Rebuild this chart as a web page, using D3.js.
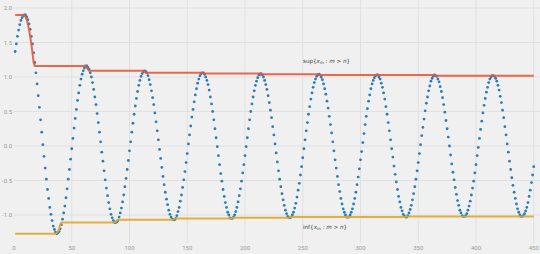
<!DOCTYPE html>
<html>
<head>
<meta charset="utf-8">
<script src="https://cdn.jsdelivr.net/npm/d3@7"></script>
<style>
  html, body { margin: 0; padding: 0; background: #f0f0f0; }
  svg { display: block; }
</style>
</head>
<body>
<svg id="chart" width="540" height="254"></svg>
<script>
// sequence x_n, n = 1 .. 450 (one value per n)
const xn = [
  1.37, 1.48, 1.59, 1.68, 1.76, 1.82, 1.86, 1.89, 1.90, 1.90,
  1.87, 1.83, 1.77, 1.69, 1.59, 1.48, 1.35, 1.21, 1.06, 0.90,
  0.73, 0.56, 0.38, 0.20, 0.02, -0.15, -0.32, -0.48, -0.63, -0.76,
  -0.89, -0.99, -1.08, -1.16, -1.21, -1.25, -1.27, -1.26, -1.24, -1.20,
  -1.14, -1.06, -0.97, -0.87, -0.75, -0.62, -0.48, -0.34, -0.19, -0.04,
  0.11, 0.26, 0.40, 0.53, 0.66, 0.77, 0.88, 0.97, 1.04, 1.09,
  1.13, 1.16, 1.16, 1.14, 1.11, 1.06, 1.00, 0.92, 0.82, 0.71,
  0.60, 0.47, 0.34, 0.20, 0.06, -0.09, -0.22, -0.36, -0.49, -0.61,
  -0.72, -0.82, -0.91, -0.99, -1.04, -1.08, -1.11, -1.11, -1.10, -1.08,
  -1.03, -0.97, -0.90, -0.81, -0.71, -0.59, -0.47, -0.34, -0.21, -0.07,
  0.06, 0.20, 0.33, 0.46, 0.58, 0.69, 0.79, 0.88, 0.95, 1.01,
  1.05, 1.08, 1.09, 1.08, 1.06, 1.02, 0.96, 0.89, 0.80, 0.70,
  0.60, 0.48, 0.35, 0.22, 0.09, -0.05, -0.18, -0.31, -0.44, -0.56,
  -0.67, -0.77, -0.85, -0.93, -0.99, -1.03, -1.06, -1.07, -1.07, -1.05,
  -1.01, -0.95, -0.89, -0.80, -0.71, -0.60, -0.49, -0.37, -0.24, -0.11,
  0.03, 0.16, 0.29, 0.42, 0.53, 0.64, 0.74, 0.83, 0.91, 0.97,
  1.02, 1.05, 1.06, 1.06, 1.04, 1.00, 0.95, 0.89, 0.81, 0.71,
  0.61, 0.50, 0.38, 0.25, 0.12, -0.01, -0.14, -0.27, -0.40, -0.51,
  -0.63, -0.73, -0.82, -0.89, -0.96, -1.00, -1.04, -1.05, -1.05, -1.03,
  -1.00, -0.95, -0.89, -0.81, -0.72, -0.62, -0.51, -0.39, -0.27, -0.14,
  -0.01,
  0.12, 0.25, 0.38, 0.50, 0.61, 0.71, 0.80, 0.88, 0.94, 0.99,
  1.03, 1.04, 1.05, 1.03, 1.00, 0.95, 0.89, 0.82, 0.73, 0.63,
  0.52, 0.41, 0.28, 0.16, 0.03, -0.10, -0.23, -0.36, -0.48, -0.59,
  -0.69, -0.78, -0.86, -0.93, -0.98, -1.02, -1.04, -1.04, -1.03, -1.00,
  -0.96, -0.90, -0.83, -0.74, -0.64, -0.54, -0.42, -0.30, -0.17, -0.04,
  0.09, 0.22, 0.34, 0.46, 0.57, 0.68, 0.77, 0.85, 0.92, 0.97,
  1.01, 1.03, 1.04, 1.03, 1.00, 0.96, 0.90, 0.83, 0.75, 0.65,
  0.55, 0.43, 0.31, 0.19, 0.06, -0.07, -0.20, -0.32, -0.44, -0.56,
  -0.66, -0.76, -0.84, -0.91, -0.96, -1.00, -1.03, -1.03, -1.03, -1.00,
  -0.96, -0.91, -0.84, -0.76, -0.67, -0.56, -0.45, -0.33, -0.20, -0.08,
  0.05, 0.18, 0.31, 0.43, 0.54, 0.65, 0.74, 0.83, 0.90, 0.95,
  0.99, 1.02, 1.03, 1.03, 1.00, 0.97, 0.91, 0.85, 0.77, 0.68,
  0.57, 0.46, 0.34, 0.22, 0.09, -0.04, -0.16, -0.29, -0.41, -0.52,
  -0.63, -0.73, -0.81, -0.89, -0.94, -0.99, -1.02, -1.03, -1.03, -1.01,
  -0.97, -0.92, -0.86, -0.78, -0.69, -0.59, -0.48, -0.36, -0.24, -0.11,
  0.02, 0.15, 0.27, 0.39, 0.51, 0.62, 0.71, 0.80, 0.87, 0.94,
  0.98, 1.01, 1.03, 1.02, 1.01, 0.97, 0.93, 0.86, 0.79, 0.70,
  0.60, 0.49, 0.37, 0.25, 0.13, 0.00, -0.13, -0.26, -0.38, -0.49,
  -0.60, -0.70, -0.79, -0.86, -0.93, -0.97, -1.01, -1.02, -1.02, -1.01,
  -0.98, -0.93, -0.87, -0.80, -0.71, -0.61, -0.51, -0.39, -0.27, -0.14,
  -0.02,
  0.11, 0.24, 0.36, 0.48, 0.59, 0.69, 0.78, 0.85, 0.92, 0.97,
  1.00, 1.02, 1.02, 1.01, 0.98, 0.94, 0.88, 0.81, 0.72, 0.63,
  0.52, 0.41, 0.28, 0.16, 0.03, -0.09, -0.22, -0.34, -0.46, -0.57,
  -0.67, -0.76, -0.84, -0.91, -0.96, -1.00, -1.02, -1.02, -1.01, -0.98,
  -0.94, -0.89, -0.82, -0.73, -0.64, -0.53, -0.42, -0.30
];

// extremes of the sequence just past the plotted window (next peak, next trough);
// only used for the tail sup / inf, not drawn as dots
const xnBeyond = [1.02, -1.02];

const xTicks = [0, 50, 100, 150, 200, 250, 300, 350, 400, 450];
const yTicks = [-1.0, -0.5, 0.0, 0.5, 1.0, 1.5, 2.0];

// label parts: [text, italic?, subscript?]
const supLabel = [["sup{", 0, 0], ["x", 1, 0], ["m", 1, 1], [" : ", 0, 0], ["m", 1, 0], [" > ", 0, 0], ["n", 1, 0], ["}", 0, 0]];
const infLabel = [["inf{", 0, 0], ["x", 1, 0], ["m", 1, 1], [" : ", 0, 0], ["m", 1, 0], [" > ", 0, 0], ["n", 1, 0], ["}", 0, 0]];

const width = 540, height = 254;
const svg = d3.select("#chart");

const x = d3.scaleLinear().domain([0, 455.4]).range([14, 540]);
const y = d3.scaleLinear().domain([-1.391, 2.116]).range([242, 0]);

svg.append("rect")
  .attr("width", width).attr("height", height)
  .attr("fill", "#f0f0f0");

// grid
svg.append("g").selectAll("line")
  .data(yTicks)
  .join("line")
  .attr("x1", 14).attr("x2", width)
  .attr("y1", d => y(d)).attr("y2", d => y(d))
  .attr("stroke", "#e0e0e0").attr("stroke-width", 1);

svg.append("g").selectAll("line")
  .data(xTicks.filter(d => d > 0))
  .join("line")
  .attr("x1", d => x(d)).attr("x2", d => x(d))
  .attr("y1", 0).attr("y2", 243)
  .attr("stroke", "#e0e0e0").attr("stroke-width", 1);

// tick labels
svg.append("g").selectAll("text")
  .data(yTicks)
  .join("text")
  .attr("x", 12).attr("y", d => y(d) + 2)
  .attr("text-anchor", "end")
  .attr("font-family", "Roboto, sans-serif")
  .attr("font-size", 6)
  .attr("fill", "#999")
  .text(d => d3.format(".1f")(d).replace("−", "-"));

svg.append("g").selectAll("text")
  .data(xTicks)
  .join("text")
  .attr("x", d => x(d)).attr("y", 250)
  .attr("text-anchor", "middle")
  .attr("font-family", "Roboto, sans-serif")
  .attr("font-size", 6)
  .attr("fill", "#999")
  .text(d => d);

// tail sup / inf of the sequence: sup{x_m : m > n}, inf{x_m : m > n}
const pts = xn.map((v, i) => [i + 1, v]);
const all = xn.concat(xnBeyond);
const supTail = pts.map((p, i) => [p[0], d3.max(all.slice(i + 1))]);
const infTail = pts.map((p, i) => [p[0], d3.min(all.slice(i + 1))]);

const line = d3.line().x(d => x(d[0])).y(d => y(d[1]));

// dots
svg.append("g").selectAll("circle")
  .data(pts)
  .join("circle")
  .attr("cx", d => x(d[0]))
  .attr("cy", d => y(d[1]))
  .attr("r", 1.4)
  .attr("fill", "#2a7db5");

svg.append("path")
  .datum(infTail)
  .attr("d", line)
  .attr("fill", "none")
  .attr("stroke", "#e2a62a")
  .attr("stroke-width", 2)
  .attr("opacity", 0.9);

svg.append("path")
  .datum(supTail)
  .attr("d", line)
  .attr("fill", "none")
  .attr("stroke", "#e8583a")
  .attr("stroke-width", 2)
  .attr("opacity", 0.9);

// annotations
function mathLabel(parts, px, py) {
  const t = svg.append("text")
    .attr("x", px).attr("y", py)
    .attr("font-family", "'DejaVu Sans', sans-serif")
    .attr("font-size", 5.6)
    .attr("fill", "#3a3a3a");
  let sub = 0;
  parts.forEach(p => {
    const ts = t.append("tspan")
      .text(p[0])
      .attr("font-style", p[1] ? "italic" : "normal");
    if (p[2]) {
      ts.attr("font-size", 4).attr("dy", 1.3);
      sub = 1;
    } else if (sub) {
      ts.attr("dy", -1.3);
      sub = 0;
    }
  });
}

mathLabel(supLabel, 303, 63);
mathLabel(infLabel, 303, 229);
</script>
</body>
</html>
